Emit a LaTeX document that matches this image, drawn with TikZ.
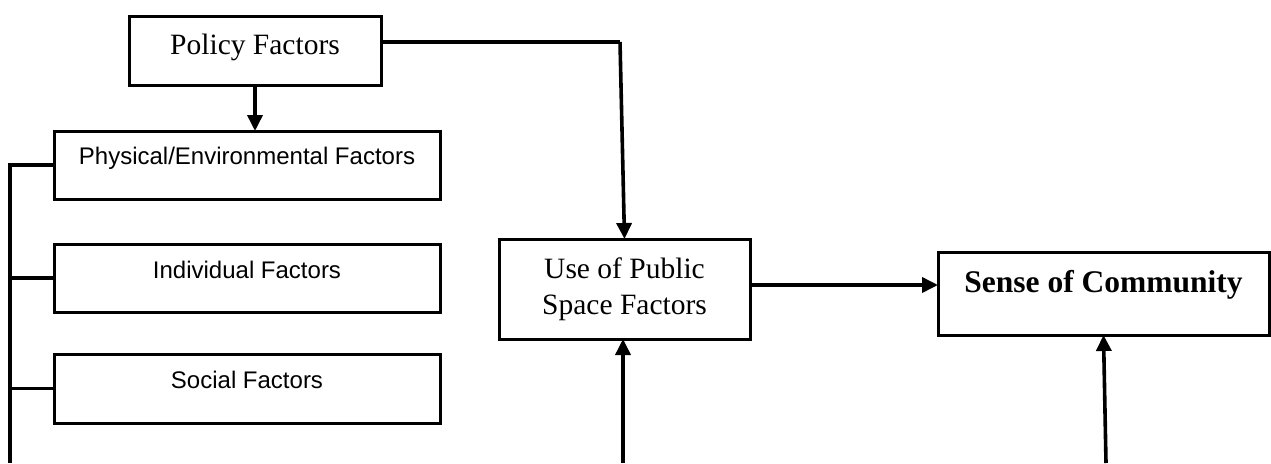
\documentclass[tikz,border=0pt]{standalone}
\usepackage{fontspec}
\setmainfont{Liberation Serif}
\newfontfamily\arialf{Liberation Sans}
\usetikzlibrary{arrows.meta,shadows}
\begin{document}
\begin{tikzpicture}[x=1pt,y=-1pt,
  box/.style={draw, line width=3pt, fill=white, inner xsep=0pt, inner ysep=0pt, outer sep=0pt, anchor=north,
    drop shadow={shadow xshift=2pt, shadow yshift=-2pt, opacity=0.3, fill=gray}},
  serifbox/.style={box, font=\fontsize{29.5}{36}\selectfont},
  sansbox/.style={box, font=\fontsize{24}{28}\arialf, minimum width=386pt},
  conn/.style={line width=3.6pt},
  arr/.style={conn, -{Triangle[length=16pt,width=15pt]}}]
\useasboundingbox (0,0) rectangle (1271,463);
% nodes
\node[serifbox, minimum width=252pt, text height=38pt, text depth=31pt] (policy) at (255,16) {Policy Factors};
\node[sansbox, text height=33pt, text depth=35pt] (phys) at (247,131) {Physical/Environmental Factors};
\node[sansbox, text height=34pt, text depth=34pt] (indiv) at (247,244) {Individual Factors};
\node[sansbox, text height=34pt, text depth=35pt] (social) at (247,354) {Social Factors};
\node[serifbox, minimum width=251pt, minimum height=100pt, align=center] (use) at (624.5,239) {Use of Public\\Space Factors};
\node[box, font=\fontsize{31.5}{36}\selectfont\bfseries, minimum width=331pt, text height=40pt, text depth=43pt] (sense) at (1103.5,252) {Sense of Community};
% helper coordinates
\coordinate (pc) at (620,42);
\coordinate (lb) at (10,463);
\coordinate (b1) at (623,463);
\coordinate (b2) at (1106,463);
\coordinate (h1) at (0,285);
% connectors
\draw[arr] (policy.south) -- (policy.south |- phys.north);
\draw[conn] (policy.east |- pc) -- (pc);
\draw[arr] (pc) -- (use.north);
\draw[arr] (use.east |- h1) -- (sense.west |- h1);
\draw[conn] (phys.west) -| (lb);
\draw[conn] (indiv.west) -- (indiv.west -| lb);
\draw[conn] (social.west) -- (social.west -| lb);
\draw[arr] (b1) -- (b1 |- use.south);
\draw[arr] (b2) -- (sense.south);
\end{tikzpicture}
\end{document}
